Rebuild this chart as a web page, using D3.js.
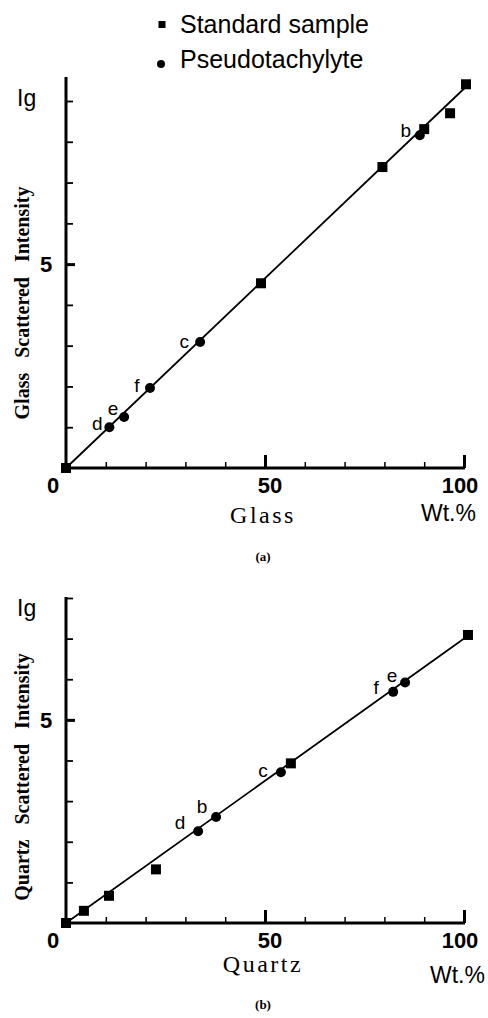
<!DOCTYPE html>
<html>
<head>
<meta charset="utf-8">
<script src="https://cdn.jsdelivr.net/npm/d3@7"></script>
<style>
  body { margin: 0; background: #fff; }
  svg { display: block; }
</style>
</head>
<body>
<svg></svg>
<script>
var width = 488;
var height = 1018;

// panel (a) glass
var glassStdX = [0, 49, 79.5, 90, 96.5, 100.5];
var glassStdY = [0, 4.53, 7.38, 8.31, 8.7, 9.41];
var glassPtLabels = ["d", "e", "f", "c", "b"];
var glassPtX = [10.9, 14.6, 21.1, 33.7, 88.9];
var glassPtY = [1.0, 1.25, 1.96, 3.09, 8.16];
var glassFitX = [0, 100.5];
var glassFitY = [0, 9.35];

// panel (b) quartz
var quartzStdX = [0, 4.5, 10.8, 22.6, 56.5, 101];
var quartzStdY = [0, 0.3, 0.67, 1.32, 3.93, 7.09];
var quartzPtLabels = ["d", "b", "c", "f", "e"];
var quartzPtX = [33.2, 37.7, 54, 82.2, 85.2];
var quartzPtY = [2.26, 2.61, 3.71, 5.69, 5.92];
var quartzFitX = [0, 101];
var quartzFitY = [0, 7.07];

var xTicks = [10, 20, 30, 40, 50, 60, 70, 80, 90, 100];
var xTickLabels = ["0", "50", "100"];

// label offsets (px) for the point letters
var glassLabelDx = [-12, -11, -13, -16, -14];
var glassLabelDy = [-4, -9, -3, 0, -5];
var quartzLabelDx = [-18, -14, -18, -17, -13];
var quartzLabelDy = [-9, -10, -2, -4, -7];

var svg = d3.select('svg')
    .attr("width", width)
    .attr("height", height);

// legend
var legend = svg.append('g');
legend.append('rect')
    .attr("x", 158.5).attr("y", 21)
    .attr("width", 7).attr("height", 7)
    .attr("fill", '#000');
legend.append('circle')
    .attr("cx", 161).attr("cy", 64).attr("r", 4)
    .attr("fill", '#000');
legend.append('text')
    .attr("x", 180).attr("y", 33)
    .attr("font-family", 'Liberation Sans, Arial, sans-serif')
    .attr("font-size", 25)
    .text('Standard sample');
legend.append('text')
    .attr("x", 180).attr("y", 68)
    .attr("font-family", 'Liberation Sans, Arial, sans-serif')
    .attr("font-size", 25)
    .text('Pseudotachylyte');

function drawPanel(p) {
    var g = svg.append('g');
    var x = d3.scaleLinear().domain([0, 100]).range([66, 464]);
    var y = d3.scaleLinear().domain([0, p.yMax]).range([p.y0, p.yTop]);

    // y ticks (pointing in)
    var yAxis = g.append('g')
        .attr("transform", "translate(" + x(0) + ",0)")
        .call(d3.axisRight(y).tickValues(p.yTicks).tickSize(7).tickFormat(""));
    yAxis.select('.domain').remove();
    yAxis.selectAll('.tick line')
        .attr("stroke", '#000')
        .attr("stroke-width", function(d) { return d === 5 ? 3 : 1.8; })
        .attr("x2", function(d) { return d === 5 ? 9 : 7; });

    // x ticks (pointing up)
    var xAxis = g.append('g')
        .attr("transform", "translate(0," + y(0) + ")")
        .call(d3.axisTop(x).tickValues(xTicks).tickSize(6).tickFormat(""));
    xAxis.select('.domain').remove();
    xAxis.selectAll('.tick line')
        .attr("stroke", '#000')
        .attr("stroke-width", function(d) { return d % 50 === 0 ? 3 : 1.5; })
        .attr("y2", function(d) { return d % 50 === 0 ? -13 : -6; });

    // axis lines
    g.append('line')
        .attr("x1", x(0)).attr("x2", x(0))
        .attr("y1", y(0) + 1).attr("y2", p.axisTop)
        .attr("stroke", '#000').attr("stroke-width", 3);
    g.append('line')
        .attr("x1", x(0)).attr("x2", x(100) + 1)
        .attr("y1", y(0)).attr("y2", y(0))
        .attr("stroke", '#000').attr("stroke-width", 3);

    // fit line
    g.append('line')
        .attr("x1", x(p.fitX[0])).attr("y1", y(p.fitY[0]))
        .attr("x2", x(p.fitX[1])).attr("y2", y(p.fitY[1]))
        .attr("stroke", '#000').attr("stroke-width", 1.8);

    // standard samples
    g.selectAll('rect.std')
        .data(d3.range(p.stdX.length))
        .enter().append('rect')
        .attr("class", 'std')
        .attr("x", function(i) { return x(p.stdX[i]) - 5; })
        .attr("y", function(i) { return y(p.stdY[i]) - 5; })
        .attr("width", 10).attr("height", 10)
        .attr("fill", '#000');

    // pseudotachylyte
    g.selectAll('circle.pt')
        .data(d3.range(p.ptX.length))
        .enter().append('circle')
        .attr("class", 'pt')
        .attr("cx", function(i) { return x(p.ptX[i]); })
        .attr("cy", function(i) { return y(p.ptY[i]); })
        .attr("r", 5)
        .attr("fill", '#000');

    g.selectAll('text.pl')
        .data(d3.range(p.ptX.length))
        .enter().append('text')
        .attr("class", 'pl')
        .attr("x", function(i) { return x(p.ptX[i]) + p.ldx[i]; })
        .attr("y", function(i) { return y(p.ptY[i]) + p.ldy[i]; })
        .attr("text-anchor", 'middle')
        .attr("dominant-baseline", 'central')
        .attr("font-family", 'Liberation Sans, Arial, sans-serif')
        .attr("font-size", 19)
        .text(function(i) { return p.labels[i]; });

    // tick labels
    var tickVals = [0, 50, 100];
    g.selectAll('text.xl')
        .data(tickVals)
        .enter().append('text')
        .attr("class", 'xl')
        .attr("x", function(d) { return d === 0 ? x(d) - 13 : x(d) + (d === 50 ? 5 : -4); })
        .attr("y", y(0) + 25)
        .attr("text-anchor", 'middle')
        .attr("font-family", 'Liberation Sans, Arial, sans-serif')
        .attr("font-weight", 'bold')
        .attr("font-size", 22)
        .text(function(d, i) { return xTickLabels[i]; });
    g.append('text')
        .attr("x", x(0) - 20).attr("y", y(5) + 8)
        .attr("text-anchor", 'middle')
        .attr("font-family", 'Liberation Sans, Arial, sans-serif')
        .attr("font-weight", 'bold')
        .attr("font-size", 22)
        .text('5');

    // Ig
    g.append('text')
        .attr("x", 17).attr("y", p.igY)
        .attr("font-family", 'Liberation Sans, Arial, sans-serif')
        .attr("font-size", 23)
        .text('Ig');

    // axis titles
    g.append('text')
        .attr("x", 263).attr("y", p.xTitleY)
        .attr("text-anchor", 'middle')
        .attr("font-family", 'Liberation Serif, Times New Roman, serif')
        .attr("font-size", 24)
        .attr("letter-spacing", 2.5)
        .text(p.xTitle);
    g.append('text')
        .attr("x", p.wtX).attr("y", p.wtY)
        .attr("font-family", 'Liberation Sans, Arial, sans-serif')
        .attr("font-size", 23)
        .text('Wt.%');
    g.append('text')
        .attr("transform", "translate(29," + p.yTitleC + ") rotate(-90)")
        .attr("text-anchor", 'middle')
        .attr("font-family", 'Liberation Serif, Times New Roman, serif')
        .attr("font-weight", 'bold')
        .attr("font-size", 20)
        .attr("word-spacing", 10)
        .text(p.yTitle);
    g.append('text')
        .attr("x", 263).attr("y", p.capY)
        .attr("text-anchor", 'middle')
        .attr("font-family", 'Liberation Serif, Times New Roman, serif')
        .attr("font-weight", 'bold')
        .attr("font-size", 13)
        .text(p.caption);
}

drawPanel({
    yMax: 9, y0: 468, yTop: 101, axisTop: 77,
    yTicks: [1, 2, 3, 4, 5, 6, 7, 8, 9],
    stdX: glassStdX, stdY: glassStdY,
    ptX: glassPtX, ptY: glassPtY, labels: glassPtLabels,
    ldx: glassLabelDx, ldy: glassLabelDy,
    fitX: glassFitX, fitY: glassFitY,
    igY: 106, xTitle: 'Glass', xTitleY: 523, wtX: 421, wtY: 521,
    yTitle: 'Glass Scattered Intensity', yTitleC: 303,
    caption: '(a)', capY: 561
});

drawPanel({
    yMax: 8, y0: 923, yTop: 598, axisTop: 597,
    yTicks: [1, 2, 3, 4, 5, 6, 7, 8],
    stdX: quartzStdX, stdY: quartzStdY,
    ptX: quartzPtX, ptY: quartzPtY, labels: quartzPtLabels,
    ldx: quartzLabelDx, ldy: quartzLabelDy,
    fitX: quartzFitX, fitY: quartzFitY,
    igY: 616, xTitle: 'Quartz', xTitleY: 972, wtX: 430, wtY: 983,
    yTitle: 'Quartz Scattered Intensity', yTitleC: 777,
    caption: '(b)', capY: 1009
});
</script>
</body>
</html>
